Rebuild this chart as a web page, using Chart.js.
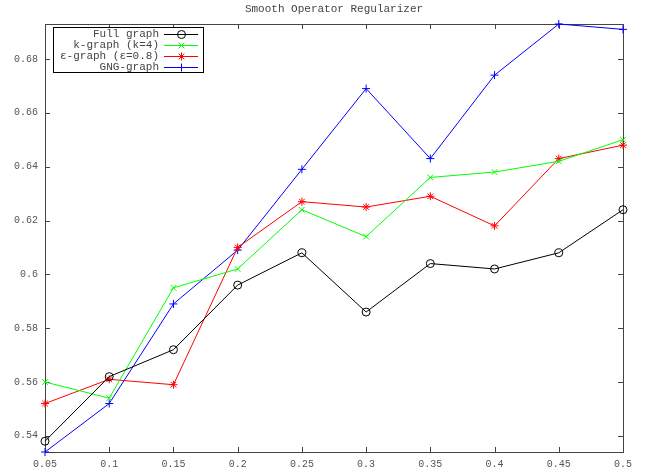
<!DOCTYPE html>
<html>
<head>
<meta charset="utf-8">
<script src="https://cdn.jsdelivr.net/npm/chart.js@4/dist/chart.umd.min.js"></script>
<style>
  html, body { margin: 0; padding: 0; background: #fff; }
  #wrap { width: 653px; height: 473px; }
</style>
</head>
<body>
<div id="wrap"><canvas id="myChart"></canvas></div>
<script>
const chartTitle = 'Smooth Operator Regularizer';
const xValues = [0.05, 0.1, 0.15, 0.2, 0.25, 0.3, 0.35, 0.4, 0.45, 0.5];
const yTicks = [0.54, 0.56, 0.58, 0.6, 0.62, 0.64, 0.66, 0.68];

const fullGraph = [0.538, 0.562, 0.572, 0.596, 0.608, 0.586, 0.604, 0.602, 0.608, 0.624];
const kGraph = [0.560, 0.554, 0.595, 0.602, 0.624, 0.614, 0.636, 0.638, 0.642, 0.650];
const epsGraph = [0.552, 0.561, 0.559, 0.610, 0.627, 0.625, 0.629, 0.618, 0.643, 0.648];
const gngGraph = [0.534, 0.552, 0.589, 0.609, 0.639, 0.669, 0.643, 0.674, 0.693, 0.691];

const labels = ['Full graph', 'k-graph (k=4)', 'ε-graph (ε=0.8)', 'GNG-graph'];

const FONT = '"Liberation Mono", "DejaVu Sans Mono", monospace';

function series(label, values, color, style) {
  return {
    label: label,
    data: values.map((v, i) => ({ x: xValues[i], y: v })),
    borderColor: color,
    backgroundColor: 'rgba(0,0,0,0)',
    borderWidth: 1,
    pointStyle: style,
    pointRadius: 4,
    pointHoverRadius: 4,
    pointBorderWidth: 1,
    pointBorderColor: color,
    pointBackgroundColor: 'rgba(0,0,0,0)',
    tension: 0,
    clip: false
  };
}

const data = {
  datasets: [
    series(labels[0], fullGraph, '#000000', 'circle'),
    series(labels[1], kGraph, '#00ff00', 'crossRot'),
    series(labels[2], epsGraph, '#ff0000', 'star'),
    series(labels[3], gngGraph, '#0000ff', 'cross')
  ]
};

// gnuplot style frame: full border, inward ticks mirrored, title, legend box
const frame = {
  id: 'frame',
  beforeDatasetsDraw(chart) {
    const ctx = chart.ctx;
    const a = chart.chartArea;
    const xs = chart.scales.x, ys = chart.scales.y;
    ctx.save();
    ctx.strokeStyle = '#444';
    ctx.lineWidth = 1;
    ctx.strokeRect(a.left + 0.5, a.top + 0.5, a.right - a.left, a.bottom - a.top);
    ctx.beginPath();
    xValues.forEach(v => {
      const px = Math.round(xs.getPixelForValue(v)) + 0.5;
      ctx.moveTo(px, a.bottom); ctx.lineTo(px, a.bottom - 5);
      ctx.moveTo(px, a.top); ctx.lineTo(px, a.top + 5);
    });
    yTicks.forEach(v => {
      const py = Math.round(ys.getPixelForValue(v)) + 0.5;
      ctx.moveTo(a.left, py); ctx.lineTo(a.left + 5, py);
      ctx.moveTo(a.right, py); ctx.lineTo(a.right - 5, py);
    });
    ctx.stroke();

    // title
    ctx.fillStyle = '#444';
    ctx.font = '11px ' + FONT;
    ctx.textAlign = 'center';
    ctx.textBaseline = 'middle';
    ctx.fillText(chartTitle, (a.left + a.right) / 2, 9);
    ctx.restore();
  },
  afterDatasetsDraw(chart) {
    const ctx = chart.ctx;
    ctx.save();
    const bx = 53, by = 27, bw = 150, bh = 45, rowH = 11;
    ctx.fillStyle = '#fff';
    ctx.fillRect(bx, by, bw, bh);
    ctx.strokeStyle = '#000';
    ctx.lineWidth = 1;
    ctx.strokeRect(bx + 0.5, by + 0.5, bw, bh);
    ctx.font = '11px ' + FONT;
    ctx.textAlign = 'right';
    ctx.textBaseline = 'middle';
    chart.data.datasets.forEach((ds, i) => {
      const cy = 34 + i * rowH;
      ctx.fillStyle = '#444';
      ctx.fillText(ds.label, 159, cy);
      ctx.strokeStyle = ds.borderColor;
      ctx.lineWidth = 1;
      ctx.beginPath();
      ctx.moveTo(164, cy + 0.5); ctx.lineTo(198, cy + 0.5);
      ctx.stroke();
      ctx.fillStyle = 'rgba(0,0,0,0)';
      Chart.helpers.drawPoint(ctx, {
        pointStyle: ds.pointStyle, radius: 4, rotation: 0, borderWidth: 1
      }, 181.5, cy + 0.5);
    });
    ctx.restore();
  }
};

const config = {
  type: 'line',
  data: data,
  plugins: [frame],
  options: {
    responsive: true,
    maintainAspectRatio: false,
    animation: false,
    layout: { padding: { top: 24, right: 30, left: 0, bottom: 0 } },
    plugins: {
      legend: { display: false },
      title: { display: false },
      tooltip: { enabled: false }
    },
    scales: {
      x: {
        type: 'linear',
        min: 0.05,
        max: 0.5,
        afterBuildTicks: s => { s.ticks = xValues.map(v => ({ value: v })); },
        afterFit: s => { s.height = 21; },
        grid: { display: false, drawTicks: false },
        border: { display: false },
        ticks: {
          padding: 6,
          color: '#555',
          maxRotation: 0,
          autoSkip: false,
          font: { family: FONT, size: 10 },
          callback: v => String(+v.toFixed(2))
        }
      },
      y: {
        type: 'linear',
        min: 0.534,
        max: 0.693,
        afterBuildTicks: s => { s.ticks = yTicks.map(v => ({ value: v })); },
        afterFit: s => { s.width = 45; },
        grid: { display: false, drawTicks: false },
        border: { display: false },
        ticks: {
          padding: 7,
          color: '#555',
          autoSkip: false,
          font: { family: FONT, size: 10 },
          callback: v => String(+v.toFixed(2))
        }
      }
    }
  }
};

const myChart = new Chart(document.getElementById('myChart'), config);
</script>
</body>
</html>
